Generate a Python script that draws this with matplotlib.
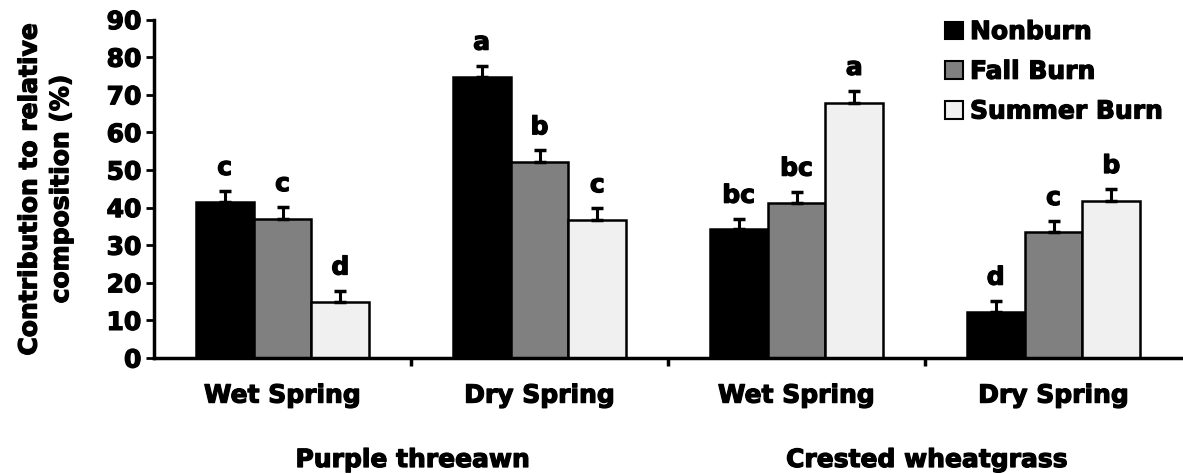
import numpy as np
import matplotlib.pyplot as plt
import matplotlib.patheffects as pe
from matplotlib.patches import Patch

plt.rcParams['font.family'] = 'DejaVu Sans'
plt.rcParams['font.weight'] = 'bold'

# Datos
seasons = ["Wet Spring", "Dry Spring", "Wet Spring", "Dry Spring"]
species = ["Purple threeawn", "Crested wheatgrass"]
treatments = ["Nonburn", "Fall Burn", "Summer Burn"]

nonburn = [41.5, 74.7, 34.2, 12.3]
fall_burn = [37.1, 52.1, 41.3, 33.4]
summer_burn = [14.8, 36.6, 67.8, 41.8]

nonburn_se = [2.9, 3.0, 2.8, 2.9]
fall_se = [3.0, 3.1, 2.9, 3.0]
summer_se = [3.1, 3.2, 3.2, 3.1]

nonburn_lbl = ["c", "a", "bc", "d"]
fall_lbl = ["c", "b", "bc", "c"]
summer_lbl = ["d", "c", "a", "b"]

colors = ["#000000", "#808080", "#f0f0f0"]

FS = 18
heavy = [pe.withStroke(linewidth=0.9, foreground="black")]  # texto un poco mas grueso

fig = plt.figure(figsize=(11.83, 4.74), dpi=100)
ax = fig.add_axes([154 / 1183, 1 - 358 / 474, 1028 / 1183, (358 - 19.6) / 474])

x = np.arange(len(seasons))
w = 0.225
series = [(nonburn, nonburn_se, nonburn_lbl),
          (fall_burn, fall_se, fall_lbl),
          (summer_burn, summer_se, summer_lbl)]

for i, (vals, se, lbls) in enumerate(series):
    pos = x + (i - 1) * w
    ax.bar(pos, vals, w, color=colors[i], edgecolor="black", linewidth=1.8, zorder=2)
    ax.errorbar(pos, vals, yerr=[np.zeros(len(se)), se], fmt="none", ecolor="black",
                elinewidth=2.2, capsize=4.5, capthick=2.5, zorder=3)
    for p, v, s, t in zip(pos, vals, se, lbls):
        ax.text(p, v + s + 4.3, t, ha="center", va="baseline", fontsize=FS,
                fontweight="bold", path_effects=heavy)

ax.set_xlim(-0.5, 3.5)
ax.set_ylim(0, 90)
ax.set_yticks(range(0, 91, 10))
ax.tick_params(axis="y", labelsize=FS, width=2, length=6, direction="out", pad=3)
for lab in ax.get_yticklabels():
    lab.set_fontweight("bold")
    lab.set_path_effects(heavy)

# divisiones entre categorias
ax.set_xticks([0.5, 1.5, 2.5])
ax.set_xticklabels([])
ax.tick_params(axis="x", width=2.5, length=6, direction="out")
for xi, s in zip(x, seasons):
    ax.text(xi, -10, s, ha="center", va="center", fontsize=FS, fontweight="bold",
            clip_on=False, path_effects=heavy)

for sp in ["top", "right"]:
    ax.spines[sp].set_visible(False)
for sp in ["left", "bottom"]:
    ax.spines[sp].set_linewidth(2.5)

ylab = ax.set_ylabel("Contribution to relative\ncomposition (%)", fontsize=FS, fontweight="bold",
                     linespacing=1.4, labelpad=24)
ylab.set_path_effects(heavy)

fig.text(413 / 1183, 1 - 460 / 474, species[0], ha="center", va="center", fontsize=FS,
         fontweight="bold", path_effects=heavy)
fig.text(927 / 1183, 1 - 460 / 474, species[1], ha="center", va="center", fontsize=FS,
         fontweight="bold", path_effects=heavy)

handles = [Patch(facecolor=c, edgecolor="black", linewidth=1.5) for c in colors]
leg = ax.legend(handles, treatments, loc="upper left", bbox_to_anchor=(945 / 1183, 1 - 20 / 474),
                bbox_transform=fig.transFigure, frameon=False, prop={"size": FS, "weight": "bold"},
                borderpad=0, borderaxespad=0,
                handlelength=0.7, handleheight=0.7, handletextpad=0.3, labelspacing=0.63)
for t in leg.get_texts():
    t.set_path_effects(heavy)

fig.savefig("out.png", dpi=100)
